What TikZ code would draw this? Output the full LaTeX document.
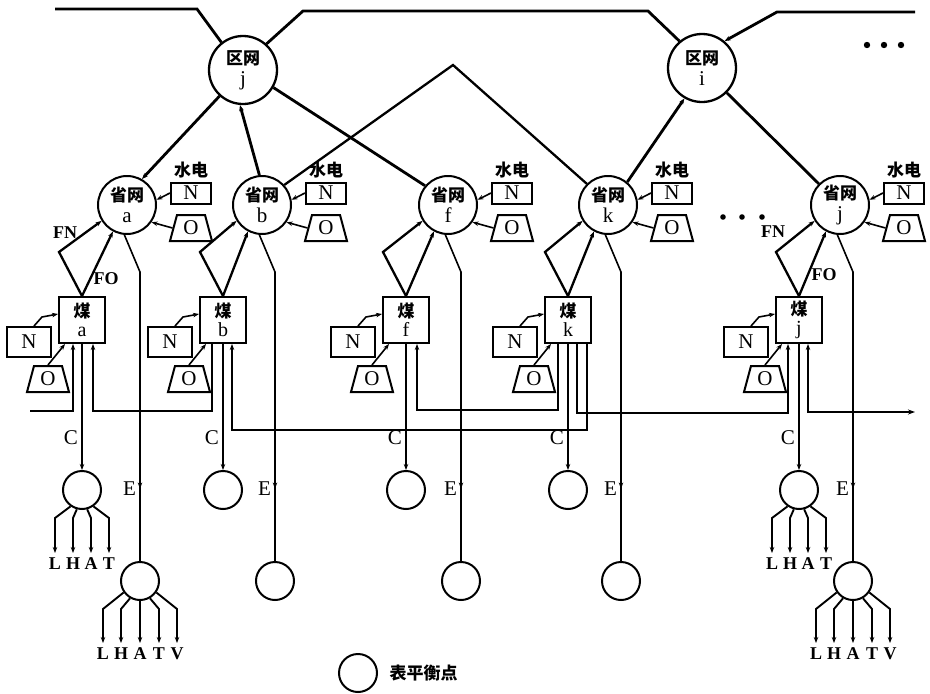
\documentclass[tikz,border=0pt]{standalone}
\usepackage{fontspec}
\setmainfont{Liberation Serif}
\newfontfamily\zhfont{Noto Sans CJK SC}
\newcommand\zh[1]{{\zhfont\bfseries\fontsize{17}{21}\selectfont #1}}
\usetikzlibrary{positioning,shapes.geometric,arrows.meta,calc,decorations.markings}

\tikzset{
  heavy/.style={line width=2.8pt},
  kite/.style={line width=2.3pt},
  flow/.style={line width=1.6pt},
  arr/.style={-{Stealth[length=6pt,width=4.5pt]}},
  regnet/.style={circle,draw,line width=2.3pt,minimum size=68pt,inner sep=0pt,align=center},
  provnet/.style={circle,draw,line width=2pt,minimum size=58pt,inner sep=0pt,align=center},
  coalbox/.style={draw,line width=2pt,minimum size=46pt,inner sep=0pt,align=center,font=\fontsize{20}{19}\selectfont},
  hnbox/.style={draw,line width=2pt,minimum width=40pt,minimum height=21pt,inner sep=0pt},
  cnbox/.style={draw,line width=2pt,minimum width=44pt,minimum height=30pt,inner sep=0pt},
  obox/.style={trapezium,draw,line width=2pt,trapezium left angle=75,trapezium right angle=75,
    trapezium stretches=true,minimum width=42pt,minimum height=26pt,inner sep=0pt},
  balpt/.style={circle,draw,line width=2pt,minimum size=38pt,inner sep=0pt},
  emid/.style={postaction={decorate},decoration={markings,
    mark=at position 0.78 with {\arrow{Stealth[length=6pt,width=4.5pt]}}}},
}

\begin{document}
\begin{tikzpicture}[x=1pt,y=-1pt,font=\fontsize{21}{21}\selectfont]
\useasboundingbox (0,0) rectangle (930,694);

% regional grids
\node[regnet] (regJ) at (243,70) {\zh{区网}\\j};
\node[regnet] (regI) at (702,68) {\zh{区网}\\i};

% provinces with hydro, coal bases and balance points
\foreach \n/\px/\cx/\lab in {A/127/82/a,B/262/223/b,F/448/406/f,K/608/568/k,J/840/799/j}{
  \node[provnet] (prov\n) at (\px,205) {\zh{省网}\\\lab};
  \node[hnbox] (hn\n) at (\px+64,193) {N};
  \node[above=0pt of hn\n] (hl\n) {\zh{水电}};
  \node[obox] (ho\n) at (\px+64,228) {O};
  \node[coalbox] (coal\n) at (\cx,320) {\zh{煤}\\\lab};
  \node[cnbox] (cn\n) at (\cx-53,342) {N};
  \node[obox] (co\n) at (\cx-34,379) {O};
  \node[balpt] (cb\n) at (\cx,490) {};
  \node[balpt] (eb\n) at (\px+13,581) {};
  \coordinate (kite\n) at (\cx-23,252);
  \coordinate (etop\n) at (\px+13,272);
  \draw[flow,arr] (hn\n.west) -- (prov\n.10);
  \draw[flow,arr] (ho\n.west) -- (prov\n.-35);
  \draw[flow,arr] ([xshift=5pt]cn\n.north) -- ++(8,-9) -- ([yshift=6pt]coal\n.west);
  \draw[flow,arr] (co\n.north) -- ([xshift=7pt]coal\n.south west);
  \draw[kite,arr] (coal\n.north) -- (kite\n) -- (prov\n.212);
  \draw[kite,arr] (coal\n.north) -- (prov\n.242);
  \draw[flow,emid] (prov\n.265) -- (etop\n) -- (eb\n.north) node[pos=0.75,left] {E};
  \draw[flow,arr] (coal\n.south) -- (cb\n.north) node[pos=0.74,left] {C};
}

% grid lines at the top
\coordinate (topW) at (55,9);
\coordinate (topE) at (915,12);
\coordinate (apex) at (453,65);
\draw[heavy] (topW) -- (197,9) -- (regJ.128);
\draw[heavy] (regJ.48) -- (303,11) -- (648,11) -- (regI.130);
\draw[heavy,arr] (topE) -- (777,12) -- (regI.50);
\draw[heavy,arr] (regJ.228) -- (provA.60);
\draw[heavy,arr] (provB.95) -- (regJ.265);
\draw[heavy] (regJ.-30) -- (provF.140);
\draw[kite] (provB.42) -- (apex) -- (provK.135);
\draw[heavy,arr] (provK.50) -- (regI.240);
\draw[heavy] (regI.-45) -- (provJ.135);

% coal transport between bases
\coordinate (busW) at (30,411);
\coordinate (busE) at (915,412);
\draw[flow,arr] (busW) -| ([xshift=-9pt]coalA.south);
\draw[flow,arr] ([xshift=-11pt]coalB.south) -- ++(0,67) -| ([xshift=11pt]coalA.south);
\draw[flow,arr] ([xshift=19pt]coalK.south) -- ++(0,86) -| ([xshift=9pt]coalB.south);
\draw[flow,arr] ([xshift=-10pt]coalK.south) -- ++(0,66) -| ([xshift=11pt]coalF.south);
\draw[flow,arr] ([xshift=9pt]coalK.south) -- ++(0,69) -| ([xshift=-11pt]coalJ.south);
\draw[flow,{Stealth[length=7pt,width=5pt]}-{Stealth[length=6pt,width=4.5pt]}] (busE) -| ([xshift=9pt]coalJ.south);

% flow labels
\node[font=\bfseries\fontsize{18}{18}\selectfont] (fnA) at (65,233) {FN};
\node[font=\bfseries\fontsize{18}{18}\selectfont] (foA) at (106,279) {FO};
\node[font=\bfseries\fontsize{18}{18}\selectfont] (fnJ) at (773,232) {FN};
\node[font=\bfseries\fontsize{18}{18}\selectfont] (foJ) at (824,275) {FO};

% end uses
\foreach \b in {cbA,cbJ}
  \foreach \ang/\dx/\lab in {235/-27/L,255/-9/H,285/9/A,305/27/T}
    \draw[line width=1.9pt,arr] (\b.\ang) -- ($(\b.center)+(\dx,28)$) -- ++(0,35)
      node[below=0pt,font=\bfseries\fontsize{18}{18}\selectfont] {\lab};
\foreach \b in {ebA,ebJ}
  \foreach \ang/\dx/\lab in {215/-37/L,240/-19/H,270/0/A,300/19/T,325/37/V}
    \draw[line width=1.9pt,arr] (\b.\ang) -- ($(\b.center)+(\dx,28)$) -- ++(0,34)
      node[below=0pt,font=\bfseries\fontsize{18}{18}\selectfont] {\lab};

\foreach \x in {867,884,901} \fill (\x,45) circle (3.2pt);
\foreach \x in {723,742,762} \fill (\x,217) circle (2.8pt);

% legend
\node[balpt] (legend) at (358,673) {};
\node[right=8pt of legend] (legendtext) {\zh{表平衡点}};
\end{tikzpicture}
\end{document}
